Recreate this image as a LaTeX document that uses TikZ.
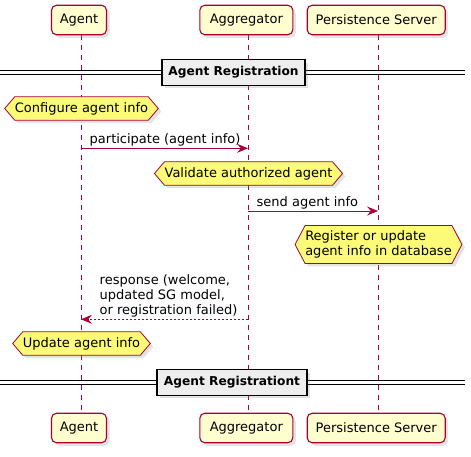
\documentclass[tikz,border=0pt]{standalone}
\usepackage{fontspec}
\setmainfont{DejaVu Sans}
\usetikzlibrary{arrows.meta,shadows,calc}
\definecolor{pborder}{HTML}{A80036}
\definecolor{pfill}{HTML}{FEFECE}
\definecolor{nfill}{HTML}{FBFB77}
\definecolor{dfill}{HTML}{EEEEEE}
\pgfdeclarelayer{lifelayer}
\pgfdeclarelayer{notelayer}
\pgfsetlayers{lifelayer,notelayer,main}
\newcommand\txtfont{\fontsize{13}{15}\selectfont}
\newcommand\hexat[1]{\path[hexshape] (#1.north west) -- (#1.north east) -- ($(#1.east)+(10,0)$) -- (#1.south east) -- (#1.south west) -- ($(#1.west)+(-10,0)$) -- cycle;}
\tikzset{
  shad/.style={drop shadow={opacity=0.22, shadow xshift=3pt, shadow yshift=-3pt}},
  part/.style={draw=pborder, fill=pfill, line width=1.1pt, rounded corners=5pt,
    minimum height=29.5pt, inner xsep=4pt, font=\txtfont, shad},
  notetext/.style={inner xsep=0pt, inner ysep=5pt, minimum height=23pt, font=\txtfont, align=left},
  hexshape/.style={draw=pborder, fill=nfill, line width=0.8pt, shad},
  divbox/.style={draw=black, fill=dfill, line width=1.3pt, minimum height=25.5pt,
    minimum width=143pt, font=\fontsize{12.2}{14}\selectfont\bfseries, shad},
  divline/.style={black, line width=1pt},
  lifeline/.style={pborder, line width=0.8pt, dash pattern=on 5pt off 5pt},
  msg/.style={pborder, line width=0.8pt, -{Stealth[length=11pt,width=9pt,inset=4pt]}},
  reply/.style={msg, dash pattern=on 2pt off 2pt},
  lbl/.style={font=\txtfont, inner sep=0pt, align=left}
}
\begin{document}
\begin{tikzpicture}[x=1pt,y=-1pt]
\useasboundingbox (0,0) rectangle (471,456);
% participants
\node[part, minimum width=55pt] (agT) at (79,20) {Agent};
\node[part, minimum width=93pt] (aggT) at (246.3,20) {Aggregator};
\node[part, minimum width=138pt] (psT) at (376.2,20) {Persistence Server};
\node[part, minimum width=55pt] (agB) at (79,428) {Agent};
\node[part, minimum width=93pt] (aggB) at (246.3,428) {Aggregator};
\node[part, minimum width=138pt] (psB) at (376.2,428) {Persistence Server};
\begin{pgfonlayer}{lifelayer}
\draw[lifeline] ([xshift=2pt]agT.south) -- ([xshift=2pt]agB.north);
\draw[lifeline] ([xshift=2pt]aggT.south) -- ([xshift=2pt]aggB.north);
\draw[lifeline] ([xshift=2pt]psT.south) -- ([xshift=2pt]psB.north);
\end{pgfonlayer}
% divider 1
\coordinate (d1l) at (0,72.5);
\coordinate (d1r) at (465,72.5);
\draw[divline] ([yshift=1.7pt]d1l) -- ([yshift=1.7pt]d1r);
\draw[divline] ([yshift=-1.7pt]d1l) -- ([yshift=-1.7pt]d1r);
\node[divbox] (d1) at (233.5,72.5) {Agent Registration};
% note 1
\node[notetext] (n1) at (81.5,108.5) {Configure agent info};
% message 1
\coordinate (m1s) at (81,148.3);
\coordinate (m1e) at (248,148.3);
\draw[msg] (m1s) -- (m1e);
\node[lbl, anchor=base west] (l1) at ($(m1s)+(8.5,-4.5)$) {participate (agent info)};
% note 2
\node[notetext] (n2) at (248.5,173.5) {Validate authorized agent};
% message 2
\coordinate (m2s) at (248,211);
\coordinate (m2e) at (378,211);
\draw[msg] (m2s) -- (m2e);
\node[lbl, anchor=base west] (l2) at ($(m2s)+(8.5,-5)$) {send agent info};
% note 3
\node[notetext] (n3) at (378.5,244.5) {Register or update\\agent info in database};
% message 3
\coordinate (m3s) at (248,319.3);
\coordinate (m3e) at (81,319.3);
\draw[reply] (m3s) -- (m3e);
\node[lbl, anchor=base west] (l3) at ($(m3e)+(18.5,-4.5)$) {response (welcome,\\updated SG model,\\or registration failed)};
% note 4
\node[notetext] (n4) at (81.5,343.5) {Update agent info};
% divider 2
\coordinate (d2l) at (0,382.5);
\coordinate (d2r) at (465,382.5);
\draw[divline] ([yshift=1.7pt]d2l) -- ([yshift=1.7pt]d2r);
\draw[divline] ([yshift=-1.7pt]d2l) -- ([yshift=-1.7pt]d2r);
\node[divbox, minimum width=150pt] (d2) at (232,382.5) {Agent Registrationt};
\begin{pgfonlayer}{notelayer}
\hexat{n1}
\hexat{n2}
\hexat{n3}
\hexat{n4}
\end{pgfonlayer}
\end{tikzpicture}
\end{document}
